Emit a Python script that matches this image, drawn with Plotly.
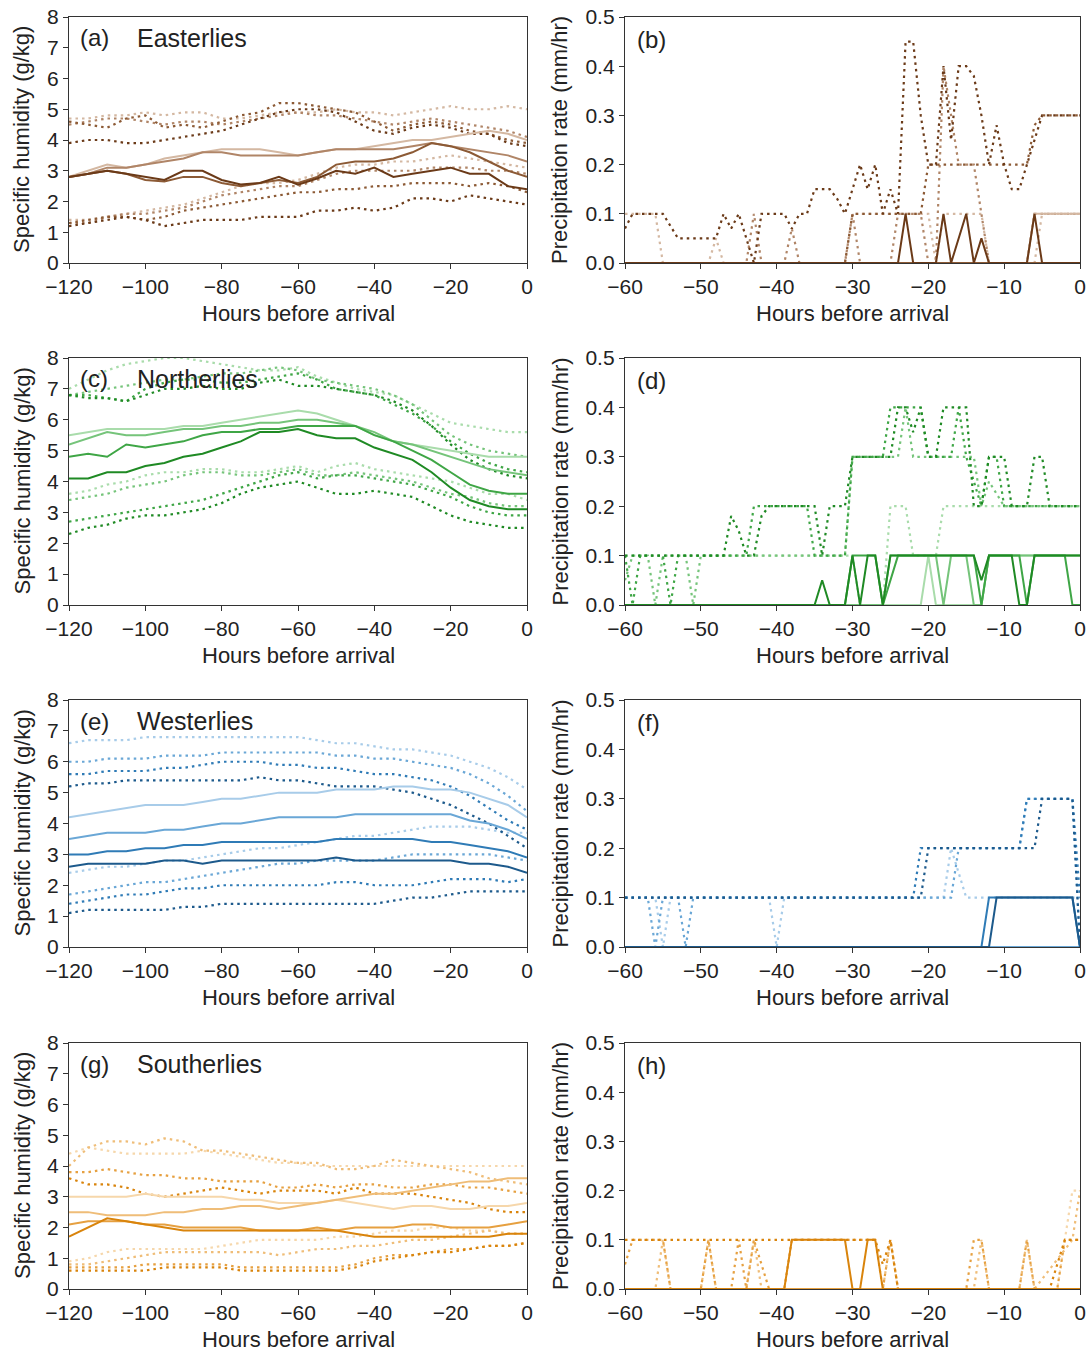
import plotly.graph_objects as go

W, H = 1092, 1352
FONT = "Liberation Sans, Arial, sans-serif"
TXT = "#222222"

# ---------------- humidity data (g/kg), every 5 h from -120 to 0 ----------------
hours_q = [-120, -115, -110, -105, -100, -95, -90, -85, -80, -75, -70, -65, -60,
           -55, -50, -45, -40, -35, -30, -25, -20, -15, -10, -5, 0]

# order of each list: darkest, dark, light, lightest
east_med = [
    [2.8, 2.9, 3.0, 2.9, 2.8, 2.7, 3.0, 3.0, 2.7, 2.55, 2.6, 2.8, 2.55, 2.75, 3.0, 2.9, 3.1, 2.8, 2.9, 3.0, 3.1, 2.9, 2.9, 2.5, 2.4],
    [2.8, 2.9, 3.0, 2.9, 2.7, 2.65, 2.8, 2.8, 2.6, 2.5, 2.6, 2.7, 2.6, 2.8, 3.2, 3.3, 3.3, 3.4, 3.6, 3.9, 3.8, 3.6, 3.3, 3.0, 2.8],
    [2.8, 2.9, 3.1, 3.1, 3.2, 3.3, 3.4, 3.6, 3.6, 3.5, 3.5, 3.5, 3.5, 3.6, 3.7, 3.7, 3.7, 3.7, 3.8, 3.9, 3.8, 3.7, 3.6, 3.5, 3.3],
    [2.8, 3.0, 3.2, 3.1, 3.2, 3.4, 3.5, 3.6, 3.7, 3.7, 3.7, 3.6, 3.5, 3.6, 3.7, 3.7, 3.8, 3.9, 4.0, 4.0, 4.1, 4.2, 4.3, 4.2, 4.0],
]
east_up = [
    [3.9, 4.0, 4.0, 3.9, 3.9, 4.0, 4.1, 4.2, 4.3, 4.5, 4.7, 4.9, 5.0, 5.0, 4.9, 4.6, 4.3, 4.2, 4.4, 4.5, 4.4, 4.2, 4.2, 3.9, 3.8],
    [4.6, 4.5, 4.4, 4.7, 4.8, 4.4, 4.5, 4.4, 4.6, 4.8, 4.9, 5.2, 5.2, 5.1, 5.0, 4.9, 4.6, 4.3, 4.5, 4.6, 4.5, 4.3, 4.2, 4.0, 3.9],
    [4.5, 4.6, 4.7, 4.7, 4.6, 4.5, 4.6, 4.6, 4.5, 4.6, 4.7, 4.8, 4.9, 4.8, 4.8, 4.7, 4.6, 4.5, 4.6, 4.7, 4.6, 4.5, 4.4, 4.3, 4.1],
    [4.7, 4.7, 4.8, 4.8, 4.9, 4.8, 4.9, 4.9, 4.7, 4.7, 4.8, 4.9, 4.9, 4.9, 5.0, 4.9, 4.9, 4.8, 4.9, 5.0, 5.1, 5.0, 5.0, 5.1, 5.0],
]
east_lo = [
    [1.2, 1.3, 1.4, 1.5, 1.4, 1.2, 1.3, 1.4, 1.4, 1.4, 1.5, 1.5, 1.5, 1.7, 1.7, 1.8, 1.7, 1.8, 2.1, 2.1, 2.0, 2.2, 2.1, 2.0, 1.9],
    [1.3, 1.4, 1.5, 1.5, 1.4, 1.5, 1.7, 1.8, 1.9, 2.0, 2.1, 2.2, 2.3, 2.3, 2.4, 2.4, 2.5, 2.5, 2.6, 2.6, 2.6, 2.5, 2.6, 2.5, 2.3],
    [1.3, 1.3, 1.5, 1.6, 1.6, 1.7, 1.8, 2.0, 2.2, 2.3, 2.4, 2.5, 2.5, 2.7, 2.9, 3.0, 3.0, 3.0, 3.0, 3.1, 3.1, 3.1, 3.0, 3.0, 2.9],
    [1.4, 1.4, 1.5, 1.6, 1.7, 1.8, 1.9, 2.1, 2.3, 2.5, 2.6, 2.6, 2.7, 2.9, 3.1, 3.2, 3.2, 3.3, 3.3, 3.4, 3.5, 3.4, 3.3, 3.2, 3.1],
]

north_med = [
    [4.1, 4.1, 4.3, 4.3, 4.5, 4.6, 4.8, 4.9, 5.1, 5.3, 5.6, 5.6, 5.7, 5.5, 5.4, 5.4, 5.1, 4.9, 4.7, 4.3, 3.8, 3.4, 3.2, 3.1, 3.1],
    [4.8, 4.9, 4.8, 5.2, 5.1, 5.2, 5.3, 5.5, 5.6, 5.6, 5.7, 5.7, 5.8, 5.8, 5.8, 5.8, 5.5, 5.3, 5.0, 4.7, 4.3, 3.9, 3.7, 3.6, 3.6],
    [5.2, 5.4, 5.6, 5.5, 5.5, 5.6, 5.7, 5.7, 5.8, 5.8, 5.9, 5.9, 6.0, 6.0, 5.9, 5.8, 5.6, 5.3, 5.2, 5.0, 4.8, 4.6, 4.4, 4.3, 4.2],
    [5.5, 5.6, 5.7, 5.7, 5.7, 5.7, 5.8, 5.8, 5.9, 6.0, 6.1, 6.2, 6.3, 6.2, 6.0, 5.8, 5.5, 5.3, 5.2, 5.1, 5.0, 4.9, 4.8, 4.8, 4.8],
]
north_up = [
    [6.8, 6.7, 6.7, 6.6, 6.8, 7.0, 7.0, 7.1, 7.0, 7.0, 7.2, 7.3, 7.1, 7.1, 7.0, 6.9, 6.8, 6.6, 6.3, 5.8, 5.2, 4.7, 4.4, 4.2, 4.1],
    [6.8, 6.8, 6.7, 6.6, 7.0, 7.2, 7.3, 7.3, 7.2, 7.2, 7.3, 7.4, 7.5, 7.3, 7.0, 6.9, 6.8, 6.5, 6.2, 5.8, 5.3, 4.9, 4.6, 4.4, 4.3],
    [6.8, 6.9, 7.0, 7.1, 7.2, 7.3, 7.3, 7.4, 7.5, 7.5, 7.6, 7.7, 7.6, 7.3, 7.2, 7.1, 7.0, 6.8, 6.5, 6.0, 5.5, 5.2, 5.0, 4.9, 4.8],
    [7.0, 7.3, 7.6, 7.8, 7.9, 8.0, 8.0, 7.9, 7.8, 7.7, 7.6, 7.6, 7.7, 7.4, 7.2, 7.0, 6.9, 6.8, 6.5, 6.2, 5.9, 5.8, 5.7, 5.6, 5.6],
]
north_lo = [
    [2.3, 2.5, 2.6, 2.8, 2.9, 2.9, 3.0, 3.1, 3.3, 3.6, 3.8, 3.9, 4.0, 3.8, 3.6, 3.6, 3.7, 3.6, 3.5, 3.2, 2.9, 2.7, 2.6, 2.5, 2.5],
    [2.7, 2.8, 2.9, 3.0, 3.1, 3.2, 3.3, 3.4, 3.6, 3.8, 4.0, 4.2, 4.3, 4.1, 4.2, 4.2, 4.1, 4.0, 3.9, 3.7, 3.5, 3.2, 3.0, 2.9, 2.9],
    [3.4, 3.5, 3.6, 3.8, 3.9, 4.0, 4.2, 4.3, 4.3, 4.2, 4.2, 4.3, 4.4, 4.2, 4.2, 4.3, 4.2, 4.1, 4.0, 3.8, 3.6, 3.5, 3.3, 3.2, 3.2],
    [3.6, 3.7, 3.9, 4.0, 4.2, 4.3, 4.3, 4.4, 4.4, 4.3, 4.3, 4.4, 4.5, 4.3, 4.5, 4.6, 4.4, 4.3, 4.2, 4.1, 4.0, 3.8, 3.6, 3.6, 3.4],
]

west_med = [
    [2.6, 2.7, 2.7, 2.7, 2.7, 2.8, 2.8, 2.7, 2.8, 2.8, 2.8, 2.8, 2.8, 2.8, 2.9, 2.8, 2.8, 2.8, 2.8, 2.8, 2.8, 2.7, 2.7, 2.6, 2.4],
    [3.0, 3.0, 3.1, 3.1, 3.2, 3.2, 3.3, 3.3, 3.4, 3.4, 3.4, 3.4, 3.4, 3.4, 3.5, 3.5, 3.5, 3.5, 3.5, 3.4, 3.4, 3.3, 3.2, 3.1, 2.9],
    [3.5, 3.6, 3.7, 3.7, 3.7, 3.8, 3.8, 3.9, 4.0, 4.0, 4.1, 4.2, 4.2, 4.2, 4.2, 4.3, 4.3, 4.3, 4.3, 4.3, 4.3, 4.1, 4.0, 3.8, 3.5],
    [4.2, 4.3, 4.4, 4.5, 4.6, 4.6, 4.6, 4.7, 4.8, 4.8, 4.9, 5.0, 5.0, 5.0, 5.1, 5.1, 5.1, 5.2, 5.2, 5.1, 5.1, 5.0, 4.8, 4.6, 4.2],
]
west_up = [
    [5.2, 5.3, 5.3, 5.4, 5.4, 5.4, 5.4, 5.4, 5.4, 5.4, 5.5, 5.4, 5.4, 5.3, 5.2, 5.2, 5.2, 5.1, 5.0, 4.8, 4.6, 4.3, 4.0, 3.6, 3.2],
    [5.6, 5.6, 5.7, 5.7, 5.7, 5.8, 5.8, 5.9, 6.0, 6.0, 6.0, 5.9, 5.9, 5.8, 5.8, 5.7, 5.6, 5.6, 5.5, 5.4, 5.2, 4.9, 4.5, 4.1, 3.8],
    [6.0, 6.0, 6.1, 6.1, 6.1, 6.2, 6.2, 6.2, 6.3, 6.3, 6.3, 6.3, 6.3, 6.3, 6.2, 6.2, 6.1, 6.1, 6.0, 5.9, 5.8, 5.6, 5.3, 4.9, 4.4],
    [6.6, 6.7, 6.7, 6.7, 6.8, 6.8, 6.8, 6.8, 6.8, 6.8, 6.8, 6.8, 6.8, 6.7, 6.6, 6.6, 6.5, 6.4, 6.4, 6.3, 6.2, 6.0, 5.8, 5.5, 5.1],
]
west_lo = [
    [1.1, 1.2, 1.2, 1.2, 1.2, 1.2, 1.3, 1.3, 1.4, 1.4, 1.4, 1.4, 1.4, 1.4, 1.4, 1.4, 1.4, 1.5, 1.6, 1.6, 1.7, 1.8, 1.8, 1.8, 1.8],
    [1.4, 1.5, 1.6, 1.7, 1.7, 1.8, 1.9, 1.9, 2.0, 2.0, 2.0, 2.0, 2.0, 2.0, 2.1, 2.1, 2.0, 2.0, 2.0, 2.1, 2.2, 2.2, 2.2, 2.1, 2.2],
    [1.7, 1.8, 1.9, 2.0, 2.1, 2.1, 2.2, 2.3, 2.4, 2.5, 2.6, 2.7, 2.7, 2.8, 2.8, 2.8, 2.8, 2.9, 3.0, 3.0, 3.0, 3.0, 3.0, 2.9, 2.8],
    [2.4, 2.5, 2.6, 2.6, 2.7, 2.8, 2.8, 2.9, 3.0, 3.1, 3.2, 3.2, 3.3, 3.4, 3.5, 3.6, 3.6, 3.7, 3.8, 3.9, 3.9, 3.9, 3.8, 3.7, 3.7],
]

south_med = [
    [1.7, 2.0, 2.3, 2.2, 2.1, 2.0, 1.9, 1.9, 1.9, 1.9, 1.9, 1.9, 1.9, 1.9, 1.9, 1.8, 1.7, 1.7, 1.7, 1.7, 1.7, 1.7, 1.7, 1.8, 1.8],
    [2.1, 2.2, 2.2, 2.2, 2.1, 2.1, 2.0, 2.0, 2.0, 2.0, 1.9, 1.9, 1.9, 2.0, 1.9, 2.0, 2.0, 2.0, 2.1, 2.1, 2.0, 2.0, 2.0, 2.1, 2.2],
    [2.5, 2.5, 2.4, 2.4, 2.4, 2.5, 2.5, 2.6, 2.6, 2.7, 2.7, 2.6, 2.7, 2.8, 2.9, 3.0, 3.1, 3.1, 3.2, 3.3, 3.4, 3.5, 3.5, 3.6, 3.6],
    [3.0, 3.0, 3.0, 3.0, 3.1, 3.0, 3.0, 3.0, 3.0, 2.9, 2.9, 2.8, 2.8, 2.8, 2.9, 2.8, 2.7, 2.6, 2.7, 2.7, 2.6, 2.6, 2.7, 2.7, 2.8],
]
south_up = [
    [3.6, 3.4, 3.4, 3.3, 3.1, 3.0, 3.1, 3.2, 3.3, 3.2, 3.1, 3.2, 3.2, 3.2, 3.1, 3.3, 3.1, 3.1, 3.1, 3.0, 2.9, 2.8, 2.6, 2.5, 2.5],
    [3.8, 3.8, 3.9, 3.8, 3.7, 3.7, 3.6, 3.6, 3.5, 3.5, 3.5, 3.3, 3.3, 3.4, 3.3, 3.4, 3.4, 3.3, 3.3, 3.4, 3.4, 3.3, 3.3, 3.2, 3.1],
    [4.0, 4.6, 4.8, 4.8, 4.7, 4.9, 4.8, 4.5, 4.5, 4.4, 4.3, 4.2, 4.1, 4.1, 3.9, 3.9, 4.0, 4.2, 4.1, 4.0, 3.9, 3.8, 3.6, 3.5, 3.4],
    [4.4, 4.6, 4.5, 4.4, 4.4, 4.4, 4.4, 4.5, 4.4, 4.3, 4.2, 4.1, 4.1, 4.0, 4.0, 4.0, 4.0, 4.0, 4.0, 4.0, 4.0, 4.0, 4.0, 4.0, 4.0],
]
south_lo = [
    [0.6, 0.6, 0.6, 0.6, 0.6, 0.7, 0.7, 0.7, 0.7, 0.6, 0.6, 0.6, 0.6, 0.6, 0.6, 0.7, 0.9, 1.0, 1.1, 1.2, 1.2, 1.3, 1.4, 1.4, 1.5],
    [0.7, 0.7, 0.7, 0.7, 0.8, 0.8, 0.8, 0.8, 0.8, 0.7, 0.7, 0.7, 0.7, 0.7, 0.7, 0.8, 1.0, 1.1, 1.1, 1.2, 1.3, 1.3, 1.4, 1.4, 1.5],
    [0.8, 0.8, 0.9, 1.0, 1.1, 1.2, 1.2, 1.2, 1.2, 1.2, 1.2, 1.1, 1.2, 1.3, 1.3, 1.4, 1.4, 1.5, 1.6, 1.6, 1.7, 1.8, 1.9, 1.8, 1.8],
    [0.9, 1.0, 1.2, 1.3, 1.3, 1.3, 1.3, 1.3, 1.4, 1.5, 1.6, 1.6, 1.6, 1.6, 1.7, 1.7, 1.8, 1.9, 1.9, 2.0, 2.0, 1.9, 1.9, 1.8, 1.8],
]

# ---------------- precipitation data (mm/hr): (hours, values) breakpoints ----------------
east_pr_solid = [
    ([-60, -24, -23, -22, -19, -18, -17, -16, -15, -14, -13, -12, -7, -6, -5, 0],
     [0, 0, 0.1, 0, 0, 0.1, 0, 0.05, 0.1, 0, 0.05, 0, 0, 0.1, 0, 0]),
    ([-60, 0], [0, 0]),
    ([-60, 0], [0, 0]),
    ([-60, -7, -6, 0], [0, 0, 0.1, 0.1]),
]
east_pr_dot = [
    ([-60, -59, -55, -53, -48, -47, -46, -45, -44, -43, -42, -39, -38, -37, -36, -35, -33, -32, -31, -30, -29, -28, -27, -26, -25, -24, -23, -22, -21, -20, -19, -18, -17, -16, -15, -14, -13, -12, -11, -10, -9, -8, -7, -6, -5, 0],
     [0.07, 0.1, 0.1, 0.05, 0.05, 0.1, 0.07, 0.1, 0.05, 0.0, 0.1, 0.1, 0.07, 0.1, 0.1, 0.15, 0.15, 0.13, 0.1, 0.15, 0.2, 0.15, 0.2, 0.1, 0.15, 0.1, 0.45, 0.45, 0.3, 0.2, 0.2, 0.4, 0.25, 0.4, 0.4, 0.38, 0.3, 0.2, 0.28, 0.2, 0.15, 0.15, 0.2, 0.25, 0.3, 0.3]),
    ([-60, -31, -30, -21, -20, -7, -6, -5, 0],
     [0, 0, 0.1, 0.1, 0.2, 0.2, 0.28, 0.3, 0.3]),
    ([-60, -44, -43, -42, -39, -38, -37, -31, -30, -29, -25, -24, -21, -20, -19, -18, -17, -16, -14, -13, -12, -7, -6, 0],
     [0, 0, 0.1, 0, 0, 0.07, 0, 0, 0.1, 0, 0, 0.1, 0.1, 0, 0, 0.4, 0.3, 0.2, 0.2, 0.1, 0, 0, 0.1, 0.1]),
    ([-60, -56, -55, -49, -48, -47, -31, -30, -20, -19, -18, -13, -12, -6, -5, 0],
     [0.1, 0.1, 0, 0, 0.05, 0, 0, 0.1, 0.1, 0, 0.1, 0.1, 0, 0, 0.1, 0.1]),
]

north_pr_solid = [
    ([-60, -35, -34, -33, -31, -30, -29, -28, -27, -26, -25, -14, -13, -12, -9, -8, -7, -6, 0],
     [0, 0, 0.05, 0, 0, 0.1, 0, 0.1, 0.1, 0, 0.1, 0.1, 0.05, 0.1, 0.1, 0, 0, 0.1, 0.1]),
    ([-60, -31, -30, -27, -26, -25, -24, -14, -13, -12, -8, -7, -6, -2, -1, 0],
     [0, 0, 0.1, 0.1, 0, 0.05, 0.1, 0.1, 0, 0.1, 0.1, 0, 0.1, 0.1, 0, 0]),
    ([-60, -26, -25, -19, -18, -17, -15, -14, -13, -12, 0],
     [0, 0, 0.1, 0.1, 0, 0.1, 0.1, 0, 0, 0.1, 0.1]),
    ([-60, -21, -20, -19, -13, -12, 0],
     [0, 0, 0.1, 0, 0, 0.1, 0.1]),
]
north_pr_dot = [
    ([-60, -47, -46, -45, -44, -43, -42, -41, -35, -34, -33, -31, -30, -25, -24, -23, -22, -21, -20, -19, -18, -15, -14, -13, -12, -10, -9, -7, -6, -5, -4, 0],
     [0.1, 0.1, 0.18, 0.15, 0.1, 0.1, 0.18, 0.2, 0.2, 0.1, 0.2, 0.2, 0.3, 0.3, 0.4, 0.4, 0.35, 0.4, 0.3, 0.3, 0.4, 0.4, 0.2, 0.2, 0.3, 0.3, 0.2, 0.2, 0.3, 0.3, 0.2, 0.2]),
    ([-60, -59, -58, -55, -54, -53, -44, -43, -36, -35, -31, -30, -26, -25, -21, -20, -17, -16, -15, -13, -12, -11, -10, 0],
     [0.1, 0, 0.1, 0.1, 0, 0.1, 0.1, 0.2, 0.2, 0.1, 0.1, 0.3, 0.3, 0.4, 0.4, 0.3, 0.3, 0.4, 0.3, 0.2, 0.3, 0.3, 0.2, 0.2]),
    ([-60, -59, -57, -56, -55, -52, -51, -50, -31, -30, -24, -23, -22, -14, -13, -12, -10, 0],
     [0.05, 0.1, 0.1, 0, 0.1, 0.1, 0, 0.1, 0.1, 0.3, 0.3, 0.4, 0.3, 0.3, 0.2, 0.25, 0.2, 0.2]),
    ([-60, -30, -29, -26, -25, -23, -22, -20, -19, -18, -16, -10, 0],
     [0.1, 0.1, 0, 0, 0.2, 0.2, 0.1, 0.1, 0.1, 0.2, 0.2, 0.2, 0.2]),
]

west_pr_solid = [
    ([-60, -12, -11, -1, 0], [0, 0, 0.1, 0.1, 0]),
    ([-60, -13, -12, -1, 0], [0, 0, 0.1, 0.1, 0]),
    ([-60, 0], [0, 0]),
    ([-60, 0], [0, 0]),
]
west_pr_dot = [
    ([-60, -21, -20, -6, -5, -1, 0], [0.1, 0.1, 0.2, 0.2, 0.3, 0.3, 0]),
    ([-60, -22, -21, -8, -7, -1, 0], [0.1, 0.1, 0.2, 0.2, 0.3, 0.3, 0.1]),
    ([-60, -57, -56, -55, -53, -52, -51, -17, -16, -8, -7, -1, 0],
     [0.1, 0.1, 0, 0.1, 0.1, 0, 0.1, 0.1, 0.2, 0.2, 0.3, 0.3, 0]),
    ([-60, -56, -55, -54, -41, -40, -39, -18, -17, -15, 0],
     [0.1, 0.1, 0, 0.1, 0.1, 0, 0.1, 0.1, 0.2, 0.1, 0.1]),
]

south_pr_solid = [
    ([-60, -39, -38, -31, -30, -29, -28, -27, -26, 0],
     [0, 0, 0.1, 0.1, 0, 0, 0.1, 0.1, 0, 0]),
    ([-60, 0], [0, 0]),
    ([-60, 0], [0, 0]),
    ([-60, 0], [0, 0]),
]
south_pr_dot = [
    ([-60, -38, -27, -26, -25, -24, -4, -3, -2, 0],
     [0.1, 0.1, 0.1, 0.05, 0.1, 0, 0, 0.05, 0.1, 0.1]),
    ([-60, -59, -55, -54, -50, -49, -48, -46, -45, -44, -43, -42, -41, -39, -38, -27, -26, -25, -24, -15, -14, -13, -12, -8, -7, -6, -3, -2, 0],
     [0.05, 0.1, 0.1, 0, 0, 0.1, 0, 0, 0.1, 0, 0.1, 0.05, 0, 0, 0.1, 0.1, 0, 0.1, 0, 0, 0.1, 0.1, 0, 0, 0.1, 0, 0, 0.1, 0.1]),
    ([-60, -56, -55, -54, -50, -49, -48, -44, -43, -42, -26, -25, -24, -14, -13, -12, -8, -7, -6, -1, 0],
     [0, 0, 0.1, 0, 0, 0.1, 0, 0, 0.1, 0, 0, 0.1, 0, 0, 0.1, 0, 0, 0.1, 0, 0.1, 0.2]),
    ([-60, -3, -2, -1, 0], [0, 0, 0.1, 0.2, 0.2]),
]

regimes = ["Easterlies", "Northerlies", "Westerlies", "Southerlies"]
q_labels = ["(a)", "(c)", "(e)", "(g)"]
p_labels = ["(b)", "(d)", "(f)", "(h)"]
shades = [
    ["#6b3a18", "#8c5a35", "#b08567", "#d4b8a2"],
    ["#1f8a24", "#3fa646", "#75c47a", "#a9dcab"],
    ["#1d5a8c", "#2f7bb6", "#6aa7d6", "#a8cce9"],
    ["#d9840c", "#e6a040", "#efbd78", "#f6d7ab"],
]
q_sets = [(east_med, east_up, east_lo), (north_med, north_up, north_lo),
          (west_med, west_up, west_lo), (south_med, south_up, south_lo)]
p_sets = [(east_pr_solid, east_pr_dot), (north_pr_solid, north_pr_dot),
          (west_pr_solid, west_pr_dot), (south_pr_solid, south_pr_dot)]

# ---------------- layout geometry (pixels) ----------------
LX = (69, 527)
RX = (625, 1080)
ROWS = [(17, 263), (358, 605), (700, 947), (1043, 1289)]
DOT = "2.5px,4px"


def px(x):
    return x / W


def py(y):
    return 1 - y / H


fig = go.Figure()
layout = dict(width=W, height=H, margin=dict(l=0, r=0, t=0, b=0),
              paper_bgcolor="white", plot_bgcolor="white", showlegend=False,
              font=dict(family=FONT, size=21, color=TXT))
annotations = []

axis_common = dict(showline=True, mirror=True, linecolor="#333333", linewidth=1.4,
                   ticks="outside", ticklen=5, tickwidth=1.2, tickcolor="#333333",
                   showgrid=False, zeroline=False, automargin=False, fixedrange=True,
                   tickfont=dict(family=FONT, size=21, color=TXT))

for r in range(4):
    top, bot = ROWS[r]
    for c in range(2):
        k = r * 2 + c + 1
        xa = "xaxis" if k == 1 else f"xaxis{k}"
        ya = "yaxis" if k == 1 else f"yaxis{k}"
        xref = "x" if k == 1 else f"x{k}"
        yref = "y" if k == 1 else f"y{k}"
        dx = LX if c == 0 else RX
        layout[xa] = dict(axis_common, domain=[px(dx[0]), px(dx[1])], anchor=yref,
                          range=[-120, 0] if c == 0 else [-60, 0],
                          dtick=20 if c == 0 else 10, tick0=0)
        if c == 0:
            layout[ya] = dict(axis_common, domain=[py(bot), py(top)], anchor=xref,
                              range=[0, 8], dtick=1, tick0=0)
        else:
            layout[ya] = dict(axis_common, domain=[py(bot), py(top)], anchor=xref,
                              range=[0, 0.5], dtick=0.1, tick0=0, tickformat=".1f")
        cols = shades[r]
        if c == 0:
            med, up, lo = q_sets[r]
            for i in range(3, -1, -1):
                for series in (up[i], lo[i]):
                    fig.add_trace(go.Scatter(x=hours_q, y=series, mode="lines",
                                             xaxis=xref, yaxis=yref, hoverinfo="skip",
                                             line=dict(color=cols[i], width=2.2, dash=DOT)))
            for i in range(3, -1, -1):
                fig.add_trace(go.Scatter(x=hours_q, y=med[i], mode="lines",
                                         xaxis=xref, yaxis=yref, hoverinfo="skip",
                                         line=dict(color=cols[i], width=2)))
        else:
            solid, dot = p_sets[r]
            for i in range(3, -1, -1):
                hx, hv = dot[i]
                fig.add_trace(go.Scatter(x=hx, y=hv, mode="lines",
                                         xaxis=xref, yaxis=yref, hoverinfo="skip",
                                         line=dict(color=cols[i], width=2.2, dash=DOT)))
            for i in range(3, -1, -1):
                hx, hv = solid[i]
                fig.add_trace(go.Scatter(x=hx, y=hv, mode="lines",
                                         xaxis=xref, yaxis=yref, hoverinfo="skip",
                                         line=dict(color=cols[i], width=2)))
        # axis titles
        annotations.append(dict(text="Hours before arrival", xref="paper", yref="paper",
                                x=px((dx[0] + dx[1]) / 2), y=py(bot + 50),
                                xanchor="center", yanchor="middle", showarrow=False,
                                font=dict(family=FONT, size=22, color=TXT)))
        annotations.append(dict(text="Specific humidity (g/kg)" if c == 0 else "Precipitation rate (mm/hr)",
                                xref="paper", yref="paper",
                                x=px(22 if c == 0 else 560), y=py((top + bot) / 2),
                                xanchor="center", yanchor="middle", textangle=-90,
                                showarrow=False, font=dict(family=FONT, size=22, color=TXT)))
        # panel labels
        if c == 0:
            annotations.append(dict(text=q_labels[r], xref="paper", yref="paper",
                                    x=px(dx[0] + 9), y=py(top + 21), xanchor="left",
                                    yanchor="middle", showarrow=False,
                                    font=dict(family=FONT, size=24, color=TXT)))
            annotations.append(dict(text=regimes[r], xref="paper", yref="paper",
                                    x=px(dx[0] + 66), y=py(top + 21), xanchor="left",
                                    yanchor="middle", showarrow=False,
                                    font=dict(family=FONT, size=25, color=TXT)))
        else:
            annotations.append(dict(text=p_labels[r], xref="paper", yref="paper",
                                    x=px(dx[0] + 10), y=py(top + 22), xanchor="left",
                                    yanchor="middle", showarrow=False,
                                    font=dict(family=FONT, size=24, color=TXT)))

layout["annotations"] = annotations
fig.update_layout(**layout)
fig.write_html("out.html")
